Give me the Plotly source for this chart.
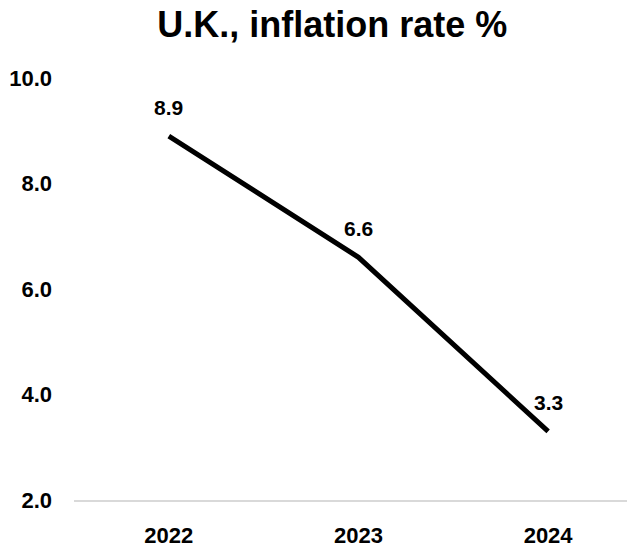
import plotly.graph_objects as go

years = ["2022", "2023", "2024"]
inflation = [8.9, 6.6, 3.3]
y_ticks = [2, 4, 6, 8, 10]
y_tick_labels = ["2.0", "4.0", "6.0", "8.0", "10.0"]

FONT = "Liberation Sans, Arial, sans-serif"

fig = go.Figure()
fig.add_trace(go.Scatter(
    x=years, y=inflation, mode="lines",
    line=dict(color="black", width=5),
    hoverinfo="skip",
))

# value labels above each point (x given as category index)
for i, v in enumerate(inflation):
    fig.add_annotation(
        x=i, y=v, xref="x", yref="y",
        text=f"<b>{v:.1f}</b>", showarrow=False,
        yshift=29, font=dict(family=FONT, size=21, color="black"),
    )

fig.update_layout(
    width=627, height=548,
    margin=dict(l=74, r=0, t=78, b=48),
    paper_bgcolor="white", plot_bgcolor="white",
    showlegend=False,
    title=dict(
        text="<b>U.K., inflation rate %</b>",
        x=0.53, xanchor="center", y=0.955, yanchor="middle",
        font=dict(family=FONT, size=36, color="black"),
    ),
    xaxis=dict(
        type="category", range=[-0.5, 2.416],
        showgrid=False, zeroline=False, automargin=False,
        showline=True, linecolor="#d9d9d9", linewidth=2,
        ticks="", ticklabelstandoff=15,
        tickfont=dict(family=FONT, size=22, color="black"),
        tickprefix="<b>", ticksuffix="</b>",
    ),
    yaxis=dict(
        range=[2, 10], tickvals=y_ticks,
        ticktext=[f"<b>{t}</b>" for t in y_tick_labels],
        showgrid=False, zeroline=False, showline=False, automargin=False,
        ticks="", ticklabelstandoff=21,
        tickfont=dict(family=FONT, size=22, color="black"),
    ),
)

fig.write_html("out.html")
